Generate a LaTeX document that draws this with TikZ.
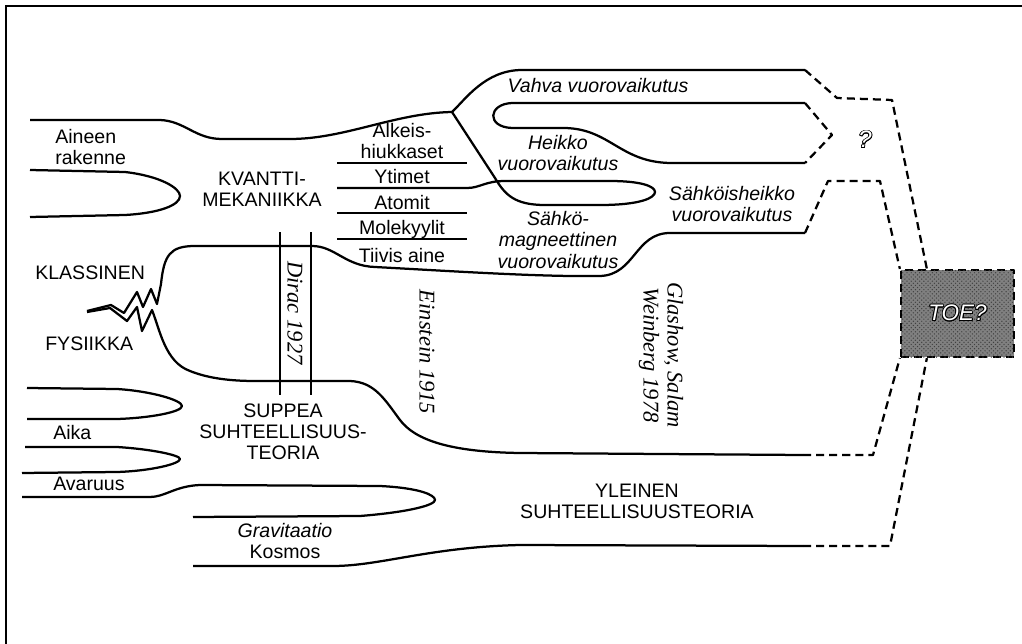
\documentclass[tikz,border=0pt]{standalone}
\usepackage{fontspec}
\setmainfont{Liberation Sans}
\newfontfamily\handfont{Liberation Serif}
\usepackage{contour}
\contourlength{0.6pt}
\usetikzlibrary{patterns}

\begin{document}
\begin{tikzpicture}[
  x=0.025cm, y=-0.025cm,
  band/.style={line width=1.6pt, line join=round},
  link/.style={band, dash pattern=on 5.7pt off 3.6pt},
  lbl/.style={font=\fontsize{13.9}{15}\selectfont, align=center, inner sep=0pt},
  ilbl/.style={lbl, font=\fontsize{13.9}{15}\selectfont\itshape},
  hand/.style={font=\handfont\itshape\fontsize{16}{17}\selectfont, rotate=-90, align=center, inner sep=0pt},
  toebox/.style={draw, link, fill=black!50, postaction={pattern=crosshatch dots, pattern color=black!75},
    minimum width=2.825cm, minimum height=2.175cm, text=white, font=\fontsize{16}{18}\selectfont\itshape}
]
\useasboundingbox (0,0) rectangle (1022,644);
\draw[line width=1.2pt] (6,644) -- (6,6) -- (1022,6);

\node[toebox] (toe) at (957.5,313.5) {\contour{black}{TOE?}};

\node[lbl, anchor=west, align=left] (aineen) at (55,147) {Aineen\\rakenne};
\node[lbl] (kvantti) at (262,189) {KVANTTI-\\MEKANIIKKA};
\node[lbl] (alkeis) at (402,141) {Alkeis-\\hiukkaset};
\node[lbl] (ytimet) at (402,177) {Ytimet};
\node[lbl, below of=ytimet, node distance=0.65cm] (atomit) {Atomit};
\node[lbl, below of=atomit, node distance=0.65cm] (molekyylit) {Molekyylit};
\node[lbl, below of=molekyylit, node distance=0.67cm] (tiivis) {Tiivis aine};
\node[lbl, anchor=west] (klassinen) at (35,273) {KLASSINEN};
\node[lbl, anchor=west] (fysiikka) at (45,344) {FYSIIKKA};
\node[lbl, anchor=west] (aika) at (53,433) {Aika};
\node[lbl, anchor=west] (avaruus) at (53,484) {Avaruus};
\node[lbl] (suppea) at (283,432) {SUPPEA\\SUHTEELLISUUS-\\TEORIA};
\node[lbl] (kosmos) at (285,541) {\textit{Gravitaatio}\\Kosmos};
\node[lbl] (yleinen) at (637,501) {YLEINEN\\SUHTEELLISUUSTEORIA};
\node[ilbl] (vahva) at (598,86) {Vahva vuorovaikutus};
\node[ilbl] (heikko) at (558,153) {Heikko\\vuorovaikutus};
\node[ilbl] (sahkoheikko) at (732,204) {Sähköisheikko\\vuorovaikutus};
\node[ilbl] (sahkomag) at (558,240) {Sähkö-\\magneettinen\\vuorovaikutus};
\node[lbl, text=white, font=\fontsize{17}{18}\selectfont\itshape] (kysymys) at (865,140) {\contour{black}{?}};
\node[hand] (dirac) at (295,313) {Dirac 1927};
\node[hand] (einstein) at (427,352) {Einstein 1915};
\node[hand] (gsw) at (661,355) {Glashow, Salam\\Weinberg 1978};

\draw[band] (30,120) -- (160,120) .. controls (185,121) and (195,139) .. (222,139) -- (290,139)
  .. controls (345,139) and (395,113) .. (452,112) coordinate (jn)
  .. controls (465,100) and (485,70) .. (522,70) -- (805,70);
\draw[band] (805,103) -- (512,103) .. controls (488,104) and (486,127) .. (512,128) -- (565,128)
  .. controls (610,129) and (620,162) .. (670,163) -- (805,163);
\draw[band] (jn) -- (495,178) .. controls (505,195) and (515,205) .. (545,205) -- (600,205)
  .. controls (640,205) and (655,198) .. (655,192) .. controls (655,186) and (640,181) .. (610,181)
  -- (505,181) .. controls (485,181) and (480,188) .. (467,188) -- (337,188);
\draw[band] (337,163) -- (467,163);
\draw[band] (337,213) -- (467,213);
\draw[band] (337,239) -- (467,239);
\draw[band] (30,170) -- (125,172) .. controls (160,176) and (180,188) .. (180,196)
  .. controls (180,205) and (160,213) .. (125,215) -- (30,217);

\draw[band] (87,311) -- (111,305) -- (124,313) -- (137,292) -- (143,307) -- (151,289) -- (157,304) -- (161,284)
  .. controls (164,255) and (170,246) .. (195,246) -- (312,246) .. controls (335,246) and (345,266) .. (375,267)
  .. controls (450,271) and (540,277) .. (600,276) .. controls (635,275) and (635,233) .. (670,233) -- (805,233);
\draw[band] (87,312) -- (110,308) -- (127,321) -- (137,307) -- (142,331) -- (152,310)
  .. controls (160,330) and (165,362) .. (190,371) .. controls (205,377) and (225,381) .. (255,381) -- (350,381)
  .. controls (375,382) and (385,400) .. (400,420) .. controls (415,440) and (450,452) .. (520,453) -- (803,455);
\draw[band] (280,232) -- (280,395);
\draw[band] (311,232) -- (311,395);

\draw[band] (27,388) -- (117,389) .. controls (150,391) and (182,400) .. (182,406)
  .. controls (182,412) and (150,418) .. (117,419) -- (27,419);
\draw[band] (25,447) -- (117,447) .. controls (150,449) and (180,455) .. (180,459)
  .. controls (180,464) and (150,471) .. (117,472) -- (22,473);
\draw[band] (22,497) -- (150,497) .. controls (165,497) and (175,486) .. (200,485) -- (380,486)
  .. controls (420,488) and (435,495) .. (435,500) .. controls (435,505) and (410,512) .. (360,516) -- (193,517);
\draw[band] (193,566) -- (333,566) .. controls (380,566) and (430,547) .. (520,545) -- (803,546);

\draw[link] (805,70) -- (837,98) -- (892,100) -- ([xshift=0.675cm]toe.north west);
\draw[link] (805,103) -- (832,135) -- (805,163);
\draw[link] (805,233) -- (828,181) -- (880,181) -- (toe.north west);
\draw[link] (803,455) -- (873,455) -- (toe.south west);
\draw[link] (803,546) -- (890,546) -- ([xshift=0.675cm]toe.south west);
\end{tikzpicture}
\end{document}
